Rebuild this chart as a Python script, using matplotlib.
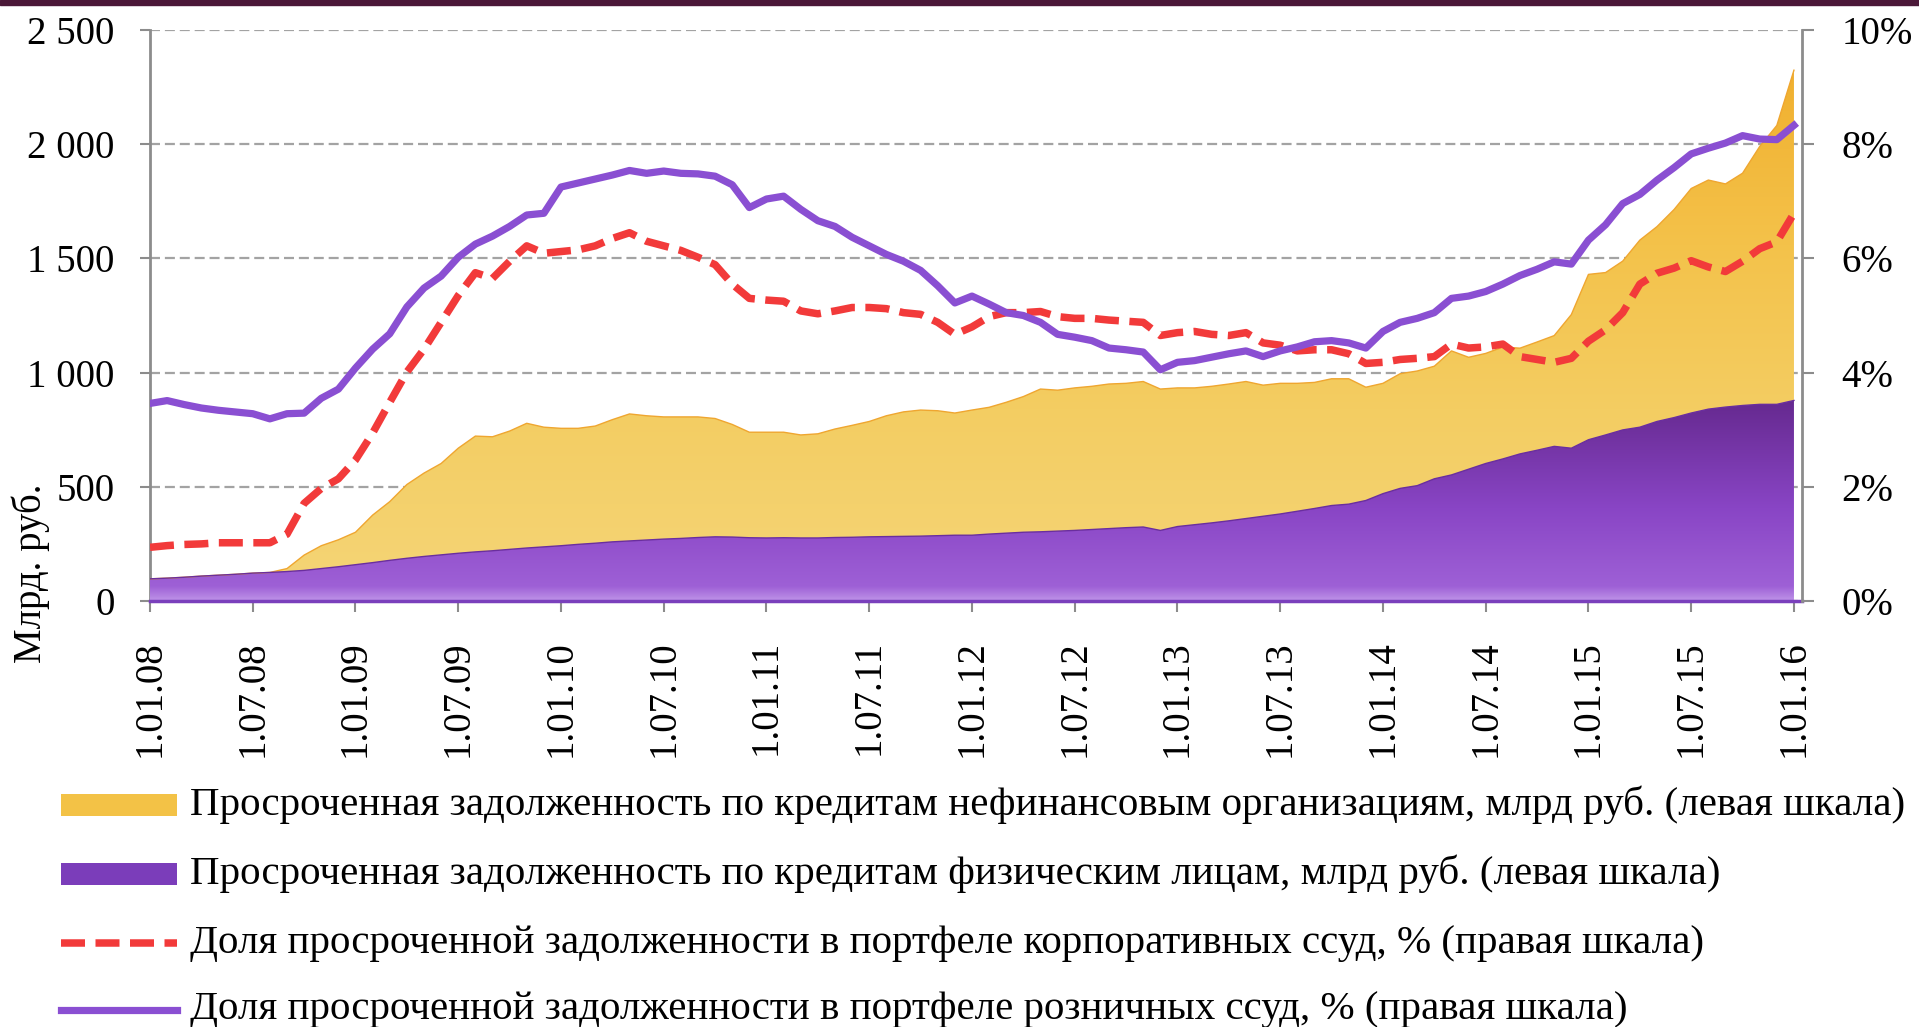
import numpy as np
import matplotlib
matplotlib.use("Agg")
import matplotlib.pyplot as plt
from matplotlib.colors import LinearSegmentedColormap
from matplotlib.patches import Rectangle
from matplotlib.lines import Line2D

plt.rcParams['font.family'] = ['Liberation Serif', 'DejaVu Serif']

# monthly data, 1.01.08 .. 1.01.16
tick_labels = ["1.01.08", "1.07.08", "1.01.09", "1.07.09", "1.01.10", "1.07.10",
               "1.01.11", "1.07.11", "1.01.12", "1.07.12", "1.01.13", "1.07.13",
               "1.01.14", "1.07.14", "1.01.15", "1.07.15", "1.01.16"]

# overdue retail loans, bn rub
retail_bln = [97, 100, 104, 109, 113, 117, 122, 125, 129, 134, 142, 150,
              159, 168, 178, 187, 195, 202, 209, 215, 220, 226, 232, 237,
              242, 248, 253, 259, 263, 267, 271, 274, 278, 281, 280, 277,
              276, 277, 276, 276, 278, 279, 281, 282, 283, 284, 286, 288,
              288, 293, 297, 301, 303, 306, 309, 313, 317, 321, 324, 309,
              326, 334, 342, 351, 361, 371, 381, 393, 405, 418, 424, 440,
              470, 493, 505, 535, 552, 577, 602, 622, 644, 660, 677, 669,
              706, 727, 749, 761, 786, 803, 823, 840, 849, 856, 861, 861,
              878]

# overdue loans to non-financial organisations, bn rub
corp_bln = [0, 0, 0, 0, 0, 0, 0, 0, 13, 67, 100, 118,
            142, 208, 257, 323, 365, 400, 460, 507, 499, 518, 546, 524,
            514, 508, 513, 535, 556, 544, 535, 532, 528, 518, 493, 462,
            463, 462, 451, 456, 475, 490, 505, 529, 545, 552, 547, 535,
            548, 555, 573, 594, 625, 617, 624, 627, 633, 632, 637, 619,
            607, 599, 598, 599, 600, 574, 572, 560, 552, 555, 549, 496,
            483, 502, 502, 493, 543, 490, 482, 490, 463, 474, 485, 585,
            724, 711, 739, 819, 853, 911, 983, 1003, 977, 1017, 1129, 1221,
            1446]

# share of overdue debt in corporate portfolio, %
corp_pct = [0.94, 0.97, 0.99, 1.00, 1.02, 1.02, 1.02, 1.02, 1.17, 1.71, 1.97, 2.14,
            2.47, 2.94, 3.48, 4.01, 4.41, 4.88, 5.35, 5.75, 5.65, 5.95, 6.22, 6.09,
            6.12, 6.15, 6.22, 6.35, 6.45, 6.30, 6.22, 6.14, 6.02, 5.89, 5.55, 5.30,
            5.27, 5.25, 5.08, 5.03, 5.08, 5.14, 5.14, 5.12, 5.05, 5.02, 4.88, 4.67,
            4.80, 4.98, 5.05, 5.05, 5.07, 4.98, 4.95, 4.95, 4.92, 4.90, 4.88, 4.65,
            4.70, 4.72, 4.67, 4.65, 4.70, 4.52, 4.48, 4.38, 4.40, 4.40, 4.33, 4.16,
            4.18, 4.23, 4.25, 4.28, 4.50, 4.43, 4.45, 4.50, 4.28, 4.23, 4.18, 4.25,
            4.55, 4.75, 5.05, 5.55, 5.74, 5.83, 5.96, 5.85, 5.77, 5.95, 6.17, 6.29,
            6.79]

# share of overdue debt in retail portfolio, %
retail_pct = [3.46, 3.51, 3.44, 3.38, 3.34, 3.31, 3.28, 3.19, 3.28, 3.29, 3.55, 3.71,
              4.08, 4.41, 4.68, 5.15, 5.48, 5.69, 6.02, 6.25, 6.39, 6.56, 6.76, 6.79,
              7.25, 7.32, 7.39, 7.46, 7.54, 7.49, 7.53, 7.49, 7.48, 7.44, 7.29, 6.89,
              7.04, 7.09, 6.86, 6.66, 6.56, 6.37, 6.22, 6.07, 5.95, 5.79, 5.52, 5.22,
              5.34, 5.20, 5.05, 5.00, 4.88, 4.67, 4.62, 4.56, 4.43, 4.40, 4.36, 4.05,
              4.18, 4.21, 4.27, 4.33, 4.38, 4.28, 4.38, 4.45, 4.54, 4.56, 4.52, 4.43,
              4.72, 4.88, 4.95, 5.05, 5.30, 5.34, 5.42, 5.55, 5.70, 5.81, 5.94, 5.90,
              6.32, 6.59, 6.96, 7.12, 7.37, 7.59, 7.83, 7.93, 8.02, 8.15, 8.09, 8.08,
              8.33]

legend_labels = [
    "Просроченная задолженность по кредитам нефинансовым организациям, млрд руб. (левая шкала)",
    "Просроченная задолженность по кредитам физическим лицам, млрд руб. (левая шкала)",
    "Доля просроченной задолженности в портфеле корпоративных ссуд, % (правая шкала)",
    "Доля просроченной задолженности в портфеле розничных ссуд, % (правая шкала)",
]

W, H = 1919, 1027
fig = plt.figure(figsize=(W / 100, H / 100), dpi=100)
fig.patch.set_facecolor('white')
ax = fig.add_axes([150 / W, 1 - 601 / H, 1652 / W, 571 / H])

x = np.arange(len(retail_bln))
retail = np.array(retail_bln, dtype=float)
total = retail + np.array(corp_bln, dtype=float)


def gradient_fill(ax, x, lo, hi, stops, vmax, z):
    poly = ax.fill_between(x, lo, hi, facecolor='none', edgecolor='none', zorder=z)
    cmap = LinearSegmentedColormap.from_list('g', stops)
    grad = np.linspace(0, 1, 256).reshape(-1, 1)
    im = ax.imshow(grad, cmap=cmap, extent=[x[0], x[-1], 0, vmax], origin='lower',
                   aspect='auto', zorder=z, interpolation='bilinear')
    im.set_clip_path(poly.get_paths()[0], transform=ax.transData)


gradient_fill(ax, x, retail, total,
              [(0, '#F5D577'), (0.35, '#F3CD62'), (0.65, '#F4C24A'), (1, '#F0AE2C')], 2400, 2)
gradient_fill(ax, x, 0, retail,
              [(0, '#BE93E8'), (0.07, '#9E60D6'), (0.45, '#8945C5'), (1, '#64288D')], 900, 3)
ax.plot(x, total, color='#EFA630', lw=1.0, zorder=4)
ax.plot(x, retail, color='#6A2E9E', lw=1.0, zorder=4)

ax.set_xlim(0, 96.47)
ax.set_ylim(0, 2500)
ax.set_yticks([0, 500, 1000, 1500, 2000, 2500])
ax.set_yticklabels(["0", "500", "1 000", "1 500", "2 000", "2 500"])
ax.set_xticks(x[::6])
ax.set_xticklabels(tick_labels, rotation=90)
ax.set_axisbelow(True)
ax.yaxis.grid(True, color='#A3A3A3', lw=1.6, linestyle=(0, (4.5, 2.2)))
ax.xaxis.grid(False)

grey = '#8C8C8C'
for s in ['top', 'right']:
    ax.spines[s].set_visible(False)
ax.spines['left'].set_color(grey)
ax.spines['left'].set_linewidth(2)
ax.spines['bottom'].set_color('#7A40BC')
ax.spines['bottom'].set_linewidth(2.5)
ax.spines['bottom'].set_zorder(5)
ax.tick_params(axis='y', direction='out', length=7.5, width=1.5, color=grey,
               labelsize=28, pad=18)
ax.tick_params(axis='x', direction='out', length=8, width=1.5, color=grey,
               labelsize=28, pad=20)

ax2 = ax.twinx()
ax2.set_ylim(0, 10)
ax2.set_yticks([0, 2, 4, 6, 8, 10])
ax2.set_yticklabels([f"{v}%" for v in [0, 2, 4, 6, 8, 10]])
ax2.plot(x, corp_pct, color='#F23A3A', lw=5.4, linestyle=(0, (3.2, 1.4)), zorder=5)
ax2.plot(x, retail_pct, color='#8A4FD2', lw=5.2, zorder=6, solid_joinstyle='round')
for s in ['top', 'left', 'bottom']:
    ax2.spines[s].set_visible(False)
ax2.spines['right'].set_color(grey)
ax2.spines['right'].set_linewidth(2)
ax2.tick_params(axis='y', direction='out', length=8.5, width=1.5, color=grey,
                labelsize=28, pad=20)

# y axis title
fig.text(31 / W, 1 - 573 / H, "Млрд. руб.", rotation=90, ha='center', va='center',
         fontsize=28)

# top band
fig.add_artist(Rectangle((0, 1 - 5 / H), 1, 5 / H, transform=fig.transFigure,
                         color='#4B1838', zorder=10))

# legend, drawn by hand
rows = [805, 874, 943, 1010]
hx0, hx1 = 61 / W, 177 / W
fig.add_artist(Rectangle((hx0, 1 - (rows[0] + 11) / H), hx1 - hx0, 22 / H,
                         transform=fig.transFigure, facecolor='#F3C246', edgecolor='none'))
fig.add_artist(Rectangle((hx0, 1 - (rows[1] + 11) / H), hx1 - hx0, 22 / H,
                         transform=fig.transFigure, facecolor='#7B3DBA', edgecolor='none'))
fig.add_artist(Line2D([hx0, hx1], [1 - rows[2] / H] * 2, transform=fig.transFigure,
                      color='#F23A3A', lw=5.4, linestyle=(0, (3.2, 1.4))))
fig.add_artist(Line2D([hx0, hx1], [1 - rows[3] / H] * 2, transform=fig.transFigure,
                      color='#8A4FD2', lw=5.2))

texts = [fig.text(190 / W, 1 - r / H, lab, ha='left', va='center', fontsize=29)
         for r, lab in zip(rows, legend_labels)]
fig.canvas.draw()
w0 = texts[0].get_window_extent().width
fs = 29 * 1718 / w0
for t in texts:
    t.set_fontsize(fs)

fig.savefig("out.png", dpi=100, facecolor='white')
